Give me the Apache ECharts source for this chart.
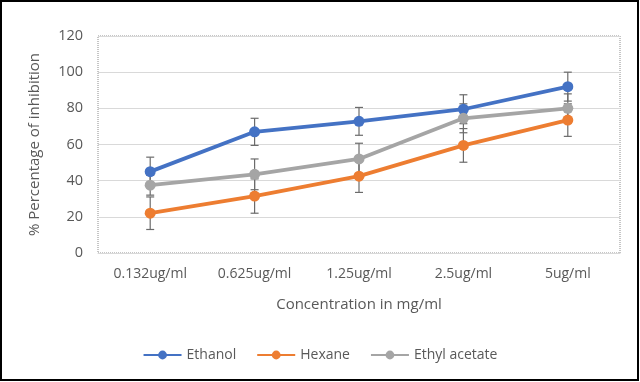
<!DOCTYPE html>
<html><head><meta charset="utf-8">
<script src="https://cdn.jsdelivr.net/npm/echarts@6/dist/echarts.min.js"></script>
<style>html,body{margin:0;padding:0;background:#fff}#c{width:640px;height:382px}</style>
</head><body><div id="c"></div>
<script>
const categories = ['0.132ug/ml','0.625ug/ml','1.25ug/ml','2.5ug/ml','5ug/ml'];
const ethanol = [45, 67, 72.8, 79.5, 92];
const hexane = [22, 31.5, 42.5, 59.5, 73.5];
const ethylAcetate = [37.5, 43.5, 52, 74.5, 80];
const ethanolErr = [8, 7.5, 7.7, 8, 8];
const hexaneErr = [9, 9.5, 9, 9.3, 9];
const ethylErr = [5.5, 8.5, 8.7, 8, 8];
const yTicks = [0, 20, 40, 60, 80, 100, 120];

const colors = {eth:'#4472C4', hex:'#ED7D31', ea:'#A5A5A5'};

function errSeries(vals, errs, z){
  return {
    type:'custom', silent:true, z:z,
    data: vals.map((v,i)=>[i, v-errs[i], v+errs[i]]),
    renderItem: function(params, api){
      const x = api.value(0);
      const lo = api.coord([x, api.value(1)]);
      const hi = api.coord([x, api.value(2)]);
      const w = 4;
      const st = {stroke:'#6b6b6b', lineWidth:1.2};
      return {type:'group', children:[
        {type:'line', shape:{x1:lo[0],y1:lo[1],x2:hi[0],y2:hi[1]}, style:st},
        {type:'line', shape:{x1:lo[0]-w,y1:lo[1],x2:lo[0]+w,y2:lo[1]}, style:st},
        {type:'line', shape:{x1:hi[0]-w,y1:hi[1],x2:hi[0]+w,y2:hi[1]}, style:st}
      ]};
    }
  };
}

function lineSeries(name, vals, color){
  return {
    name:name, type:'line', data:vals, symbol:'circle', symbolSize:11,
    lineStyle:{width:3.8, color:color}, itemStyle:{color:color}, z:5
  };
}

const chart = echarts.init(document.getElementById('c'), null, {renderer:'canvas'});
chart.setOption({
  animation:false,
  textStyle:{fontFamily:'"Open Sans", "Noto Sans", sans-serif'},
  grid:{left:98, right:20, top:36, bottom:129, show:true, borderColor:'#8c8c8c', borderWidth:1, borderType:'dotted'},
  graphic:[{type:'rect', shape:{x:1,y:1,width:637,height:379}, style:{fill:null, stroke:'#000', lineWidth:2}, silent:true}],
  legend:{
    bottom:15, left:'center', itemWidth:38, itemHeight:11, itemGap:20,
    textStyle:{color:'#595959', fontSize:14, fontFamily:'"Open Sans", sans-serif'},
    data:['Ethanol','Hexane','Ethyl acetate']
  },
  xAxis:{
    type:'category', data:categories,
    name:'Concentration in mg/ml', nameLocation:'middle', nameGap:44,
    nameTextStyle:{color:'#595959', fontSize:15},
    axisLine:{lineStyle:{color:'#d9d9d9', width:1}},
    axisTick:{show:false},
    axisLabel:{color:'#595959', fontSize:14, margin:14}
  },
  yAxis:{
    type:'value', min:0, max:120, interval:20,
    name:'% Percentage of inhibition', nameLocation:'middle', nameGap:56,
    nameTextStyle:{color:'#595959', fontSize:15},
    axisLine:{show:false}, axisTick:{show:false},
    axisLabel:{color:'#595959', fontSize:14.5, margin:15},
    splitLine:{lineStyle:{color:'#d9d9d9', width:1}}
  },
  series:[
    lineSeries('Ethanol', ethanol, colors.eth),
    lineSeries('Hexane', hexane, colors.hex),
    lineSeries('Ethyl acetate', ethylAcetate, colors.ea),
    errSeries(ethanol, ethanolErr, 3),
    errSeries(hexane, hexaneErr, 3),
    errSeries(ethylAcetate, ethylErr, 3)
  ]
});
</script></body></html>
